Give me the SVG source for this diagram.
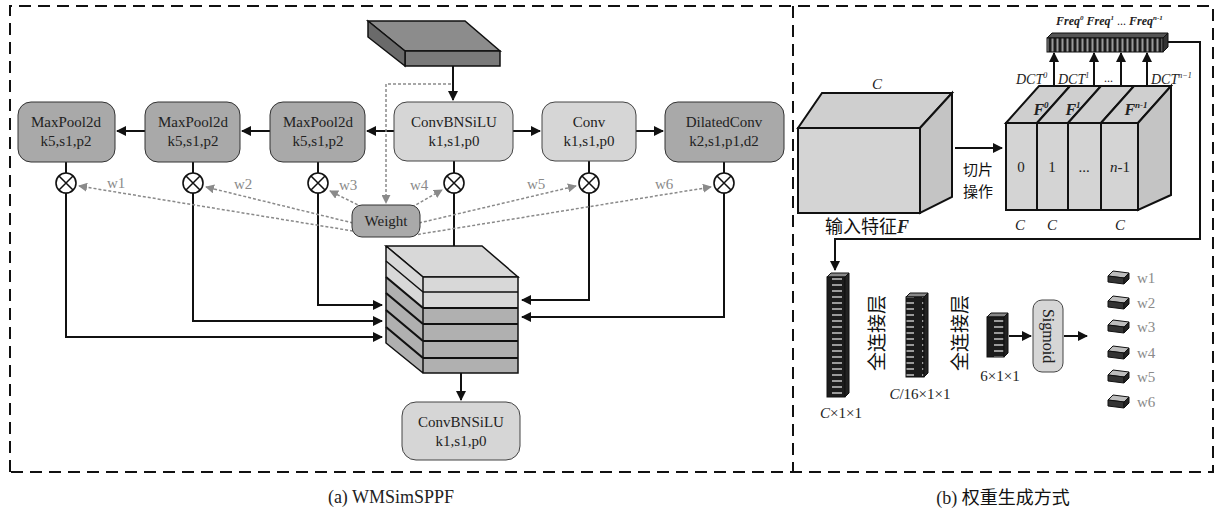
<svg xmlns="http://www.w3.org/2000/svg" width="1216" height="511" viewBox="0 0 1216 511">
<defs>
<style>
.t{font-family:"Liberation Serif",serif;fill:#222;}
.nt{font-size:15px;text-anchor:middle;}
.wl{font-family:"Liberation Serif",serif;font-size:15px;fill:#8a8a8a;}
.cj{font-family:"Noto Sans CJK SC",sans-serif;fill:#111;}
.dark{fill:#a9a9a9;stroke:#333;stroke-width:1;}
.light{fill:#d6d6d6;stroke:#444;stroke-width:1;}
.ln{stroke:#111;stroke-width:2;fill:none;}
.ga{stroke:#8a8a8a;stroke-width:1.5;stroke-dasharray:3 2;fill:none;marker-end:url(#ag);}
.ox{fill:#fff;stroke:#111;stroke-width:1.6;}
.ed{stroke:#111;stroke-width:1.5;}
.ws polygon{stroke:#111;stroke-width:1;}
</style>
<marker id="ab" viewBox="0 0 10 10" refX="9" refY="5" markerWidth="5" markerHeight="5" orient="auto" markerUnits="strokeWidth"><path d="M0,0 L10,5 L0,10 z" fill="#111"/></marker>
<marker id="ag" viewBox="0 0 10 10" refX="9" refY="5" markerWidth="6" markerHeight="6" orient="auto" markerUnits="strokeWidth"><path d="M0,0 L10,5 L0,10 z" fill="#8a8a8a"/></marker>
<pattern id="cells" width="18" height="6" patternUnits="userSpaceOnUse"><rect width="18" height="6" fill="#1c1c1c"/><rect x="4" y="2" width="10" height="2" fill="#9a9a9a"/></pattern>
<pattern id="vst" width="5" height="20" patternUnits="userSpaceOnUse"><rect width="5" height="20" fill="#1c1c1c"/><rect x="1.5" y="0" width="2" height="20" fill="#9a9a9a"/></pattern>
</defs>
<rect width="1216" height="511" fill="#fff"/>

<g id="frame" fill="none" stroke="#111" stroke-width="2" stroke-dasharray="12 7">
<path d="M10,472 V6 H1213 V472 Z"/>
<path d="M793,6 V472"/>
</g>

<g id="connectors">
<path class="ln" d="M453,66 V100" marker-end="url(#ab)"/>
<path class="ln" d="M394,131 H367" marker-end="url(#ab)"/>
<path class="ln" d="M270,131 H242" marker-end="url(#ab)"/>
<path class="ln" d="M145,131 H117" marker-end="url(#ab)"/>
<path class="ln" d="M513,131 H540" marker-end="url(#ab)"/>
<path class="ln" d="M636,131 H663" marker-end="url(#ab)"/>
<path class="ln" d="M66,162 V173 M193,162 V173 M318,162 V173 M454,161 V173 M589,161 V173 M724,162 V173"/>
<path class="ln" d="M454,193 V258" marker-end="url(#ab)"/>
<path class="ln" d="M318,193 V305 H382" marker-end="url(#ab)"/>
<path class="ln" d="M193,193 V321 H382" marker-end="url(#ab)"/>
<path class="ln" d="M66,193 V337 H382" marker-end="url(#ab)"/>
<path class="ln" d="M589,193 V300 H522" marker-end="url(#ab)"/>
<path class="ln" d="M724,193 V317 H522" marker-end="url(#ab)"/>
<path class="ln" d="M461,373 V400" marker-end="url(#ab)"/>
<path class="ga" d="M451,84 H386 V203"/>
<path class="ga" d="M353,231 L79,186"/>
<path class="ga" d="M353,223 L206,187"/>
<path class="ga" d="M362,207 L330,191"/>
<path class="ga" d="M412,207 L442,190"/>
<path class="ga" d="M419,223 L576,186"/>
<path class="ga" d="M408,236 L711,187"/>
<path class="ln" d="M955,148 H1002" marker-end="url(#ab)"/>
<path class="ln" stroke-width="1.6" d="M1054,86 V70 M1094,86 V70 M1121,86 V70 M1147,86 V70"/>
<path class="ln" stroke-width="1.6" d="M1054,72 V53" marker-end="url(#ab)"/>
<path class="ln" stroke-width="1.6" d="M1094,72 V53" marker-end="url(#ab)"/>
<path class="ln" stroke-width="1.6" d="M1121,72 V53" marker-end="url(#ab)"/>
<path class="ln" stroke-width="1.6" d="M1147,72 V53" marker-end="url(#ab)"/>
<path class="ln" stroke-width="1.6" d="M1168,42 H1200 V239 H835 V270" marker-end="url(#ab)"/>
<path class="ln" stroke-width="1.6" d="M1009,336 H1031" marker-end="url(#ab)"/>
<path class="ln" stroke-width="1.6" d="M1064,336 H1087" marker-end="url(#ab)"/>
</g>

<g id="input-slab">
<polygon points="368,21 465,21 500,51 405,51" fill="#8c8c8c" stroke="#111" stroke-width="1.5"/>
<polygon points="405,51 500,51 500,66 405,66" fill="#7a7a7a" stroke="#111" stroke-width="1.5"/>
<polygon points="368,21 405,51 405,66 368,37" fill="#6a6a6a" stroke="#111" stroke-width="1.5"/>
</g>

<g id="maxpool1"><rect class="dark" x="18" y="102" width="97" height="60" rx="13"/><text class="t nt" x="66" y="127">MaxPool2d</text><text class="t nt" x="66" y="146">k5,s1,p2</text></g>
<g id="maxpool2"><rect class="dark" x="145" y="102" width="95" height="60" rx="13"/><text class="t nt" x="193" y="127">MaxPool2d</text><text class="t nt" x="193" y="146">k5,s1,p2</text></g>
<g id="maxpool3"><rect class="dark" x="270" y="102" width="95" height="60" rx="13"/><text class="t nt" x="318" y="127">MaxPool2d</text><text class="t nt" x="318" y="146">k5,s1,p2</text></g>
<g id="convbnsilu"><rect class="light" x="394" y="102" width="119" height="59" rx="13"/><text class="t nt" x="454" y="127">ConvBNSiLU</text><text class="t nt" x="454" y="146">k1,s1,p0</text></g>
<g id="conv"><rect class="light" x="542" y="102" width="94" height="59" rx="13"/><text class="t nt" x="589" y="127">Conv</text><text class="t nt" x="589" y="146">k1,s1,p0</text></g>
<g id="dilatedconv"><rect class="dark" x="665" y="102" width="119" height="60" rx="13"/><text class="t nt" x="724" y="127">DilatedConv</text><text class="t nt" x="724" y="146">k2,s1,p1,d2</text></g>

<g id="mults">
<g><circle class="ox" cx="66" cy="183" r="10"/><path class="ed" d="M59,176 L73,190 M73,176 L59,190"/></g>
<g><circle class="ox" cx="193" cy="183" r="10"/><path class="ed" d="M186,176 L200,190 M200,176 L186,190"/></g>
<g><circle class="ox" cx="318" cy="183" r="10"/><path class="ed" d="M311,176 L325,190 M325,176 L311,190"/></g>
<g><circle class="ox" cx="454" cy="183" r="10"/><path class="ed" d="M447,176 L461,190 M461,176 L447,190"/></g>
<g><circle class="ox" cx="589" cy="183" r="10"/><path class="ed" d="M582,176 L596,190 M596,176 L582,190"/></g>
<g><circle class="ox" cx="724" cy="183" r="10"/><path class="ed" d="M717,176 L731,190 M731,176 L717,190"/></g>
</g>

<g id="wlabels">
<text class="wl" x="107" y="188">w1</text>
<text class="wl" x="234" y="189">w2</text>
<text class="wl" x="339" y="190">w3</text>
<text class="wl" x="410" y="190">w4</text>
<text class="wl" x="527" y="189">w5</text>
<text class="wl" x="655" y="189">w6</text>
</g>

<g id="weight"><rect class="dark" x="352" y="205" width="68" height="32" rx="10"/><text class="t" x="386" y="226" font-size="15" text-anchor="middle">Weight</text></g>

<g id="concat">
<polygon points="386,246 482,246 518,277 423,277" fill="#d8d8d8" stroke="#111" stroke-width="1.5"/>
<rect x="423" y="277" width="95" height="31" fill="#d8d8d8"/>
<rect x="423" y="308" width="95" height="65" fill="#b0b0b0"/>
<polygon points="386,246 423,277 423,308 386,277" fill="#d8d8d8"/>
<polygon points="386,277 423,308 423,373 386,343" fill="#b0b0b0"/>
<path d="M423,277 H518 V373 H423 Z M386,246 L423,277 M386,246 V343 L423,373" fill="none" stroke="#111" stroke-width="1.5"/>
<path d="M423,292 H518 M386,261 L423,292" stroke="#111" stroke-width="1.5"/>
<path d="M423,308 H518 M423,324 H518 M423,341 H518 M423,358 H518 M386,277 L423,308 M386,293 L423,324 M386,310 L423,341 M386,327 L423,358" stroke="#111" stroke-width="2.2"/>
</g>

<g id="convbnsilu-out"><rect class="light" x="402" y="402" width="118" height="58" rx="14"/><text class="t nt" x="461" y="427">ConvBNSiLU</text><text class="t nt" x="461" y="446">k1,s1,p0</text></g>

<g id="captions">
<text class="t" x="391" y="503" font-size="18" text-anchor="middle">(a) WMSimSPPF</text>
<text x="1003" y="504" font-size="18" text-anchor="middle"><tspan class="t">(b) </tspan><tspan class="cj">权重生成方式</tspan></text>
</g>

<g id="input-feature">
<polygon points="798,128 822,93 952,93 920,128" fill="#cfcfcf" stroke="#111" stroke-width="2"/>
<polygon points="920,128 952,93 952,197 920,213" fill="#c4c4c4" stroke="#111" stroke-width="2"/>
<rect x="798" y="128" width="122" height="85" fill="#d4d4d4" stroke="#111" stroke-width="2"/>
<text class="t" x="877" y="89" font-size="15" font-style="italic" text-anchor="middle">C</text>
<text x="867" y="233" font-size="18" text-anchor="middle"><tspan class="cj">输入特征</tspan><tspan class="t" font-weight="bold" font-style="italic">F</tspan></text>
</g>

<g id="slice-op"><text class="cj" x="978" y="175" font-size="15" text-anchor="middle">切片</text><text class="cj" x="978" y="197" font-size="15" text-anchor="middle">操作</text></g>

<g id="slices">
<polygon points="1006,123 1039,86 1070,86 1037,123" fill="#cfcfcf" stroke="#111" stroke-width="2"/>
<polygon points="1037,123 1070,86 1101,86 1068,123" fill="#cfcfcf" stroke="#111" stroke-width="2"/>
<polygon points="1068,123 1101,86 1134,86 1101,123" fill="#cfcfcf" stroke="#111" stroke-width="2"/>
<polygon points="1101,123 1134,86 1171,86 1138,123" fill="#cfcfcf" stroke="#111" stroke-width="2"/>
<polygon points="1138,123 1171,86 1171,195 1138,210" fill="#c4c4c4" stroke="#111" stroke-width="2"/>
<rect x="1006" y="123" width="31" height="87" fill="#d4d4d4" stroke="#111" stroke-width="2"/>
<rect x="1037" y="123" width="31" height="87" fill="#d4d4d4" stroke="#111" stroke-width="2"/>
<rect x="1068" y="123" width="33" height="87" fill="#d4d4d4" stroke="#111" stroke-width="2"/>
<rect x="1101" y="123" width="37" height="87" fill="#d4d4d4" stroke="#111" stroke-width="2"/>
<text class="t" x="1041" y="115" font-size="16" font-weight="bold" font-style="italic" text-anchor="middle">F<tspan font-size="9" dy="-7">0</tspan></text>
<text class="t" x="1073" y="115" font-size="16" font-weight="bold" font-style="italic" text-anchor="middle">F<tspan font-size="9" dy="-7">1</tspan></text>
<text class="t" x="1136" y="115" font-size="16" font-weight="bold" font-style="italic" text-anchor="middle">F<tspan font-size="9" dy="-7">n-1</tspan></text>
<text class="t" x="1021" y="172" font-size="15" text-anchor="middle">0</text>
<text class="t" x="1052" y="172" font-size="15" text-anchor="middle">1</text>
<text class="t" x="1084" y="172" font-size="15" text-anchor="middle">...</text>
<text class="t" x="1120" y="172" font-size="15" text-anchor="middle"><tspan font-style="italic">n</tspan>-1</text>
<text class="t" x="1020" y="230" font-size="15" font-style="italic" text-anchor="middle">C</text>
<text class="t" x="1052" y="230" font-size="15" font-style="italic" text-anchor="middle">C</text>
<text class="t" x="1120" y="230" font-size="15" font-style="italic" text-anchor="middle">C</text>
</g>

<g id="dct-labels">
<text class="t" x="1016" y="84" font-size="14" font-style="italic">DCT<tspan font-size="8" dy="-6">0</tspan></text>
<text class="t" x="1058" y="84" font-size="14" font-style="italic">DCT<tspan font-size="8" dy="-6">1</tspan></text>
<text class="t" x="1104" y="82" font-size="12" fill="#555">...</text>
<text class="t" x="1151" y="84" font-size="14" font-style="italic">DCT<tspan font-size="8" dy="-6">n−1</tspan></text>
</g>

<g id="freq">
<polygon points="1047,38 1052,33 1168,33 1163,38" fill="#555" stroke="#111" stroke-width="1"/>
<rect x="1047" y="38" width="116" height="14" fill="url(#vst)" stroke="#111" stroke-width="1"/>
<polygon points="1163,38 1168,33 1168,47 1163,52" fill="#333" stroke="#111" stroke-width="1"/>
<text class="t" x="1056" y="25" font-size="12" font-weight="bold" font-style="italic">Freq<tspan font-size="7" dy="-5">0</tspan><tspan dy="5"> Freq</tspan><tspan font-size="7" dy="-5">1</tspan><tspan dy="5" font-style="normal" font-weight="normal"> ... </tspan><tspan>Freq</tspan><tspan font-size="7" dy="-5">n-1</tspan></text>
</g>

<g id="col-c">
<polygon points="827,277 831,273 849,273 845,277" fill="#888" stroke="#111" stroke-width="1"/>
<rect x="827" y="277" width="18" height="120" fill="url(#cells)" stroke="#111" stroke-width="1"/>
<polygon points="845,277 849,273 849,393 845,397" fill="#222" stroke="#111" stroke-width="1"/>
<text class="t" x="841" y="418" font-size="15" text-anchor="middle"><tspan font-style="italic">C</tspan>×1×1</text>
</g>
<g id="fc1"><text class="cj" transform="translate(884,333) rotate(-90)" font-size="19" text-anchor="middle">全连接层</text></g>
<g id="col-c16">
<polygon points="906,297 910,293 928,293 924,297" fill="#888" stroke="#111" stroke-width="1"/>
<rect x="906" y="297" width="18" height="80" fill="url(#cells)" stroke="#111" stroke-width="1"/>
<polygon points="924,297 928,293 928,373 924,377" fill="#222" stroke="#111" stroke-width="1"/>
<text class="t" x="920" y="399" font-size="15" text-anchor="middle"><tspan font-style="italic">C</tspan>/16×1×1</text>
</g>
<g id="fc2"><text class="cj" transform="translate(967,333) rotate(-90)" font-size="19" text-anchor="middle">全连接层</text></g>
<g id="col-6">
<polygon points="987,317 991,313 1008,313 1004,317" fill="#888" stroke="#111" stroke-width="1"/>
<rect x="987" y="317" width="17" height="40" fill="url(#cells)" stroke="#111" stroke-width="1"/>
<polygon points="1004,317 1008,313 1008,353 1004,357" fill="#222" stroke="#111" stroke-width="1"/>
<text class="t" x="1000" y="381" font-size="15" text-anchor="middle">6×1×1</text>
</g>
<g id="sigmoid"><rect class="light" x="1033" y="300" width="30" height="72" rx="9"/><text class="t" transform="translate(1043,336) rotate(90)" font-size="16" text-anchor="middle">Sigmoid</text></g>

<g id="weights-out" class="ws">
<g transform="translate(1108,278)"><polygon points="0,-2 5,-7 21,-5 16,0" fill="#bdbdbd"/><polygon points="0,-2 16,0 16,6 0,4" fill="#333"/><polygon points="16,0 21,-5 21,1 16,6" fill="#222"/><text class="wl" x="29" y="5">w1</text></g>
<g transform="translate(1108,303)"><polygon points="0,-2 5,-7 21,-5 16,0" fill="#bdbdbd"/><polygon points="0,-2 16,0 16,6 0,4" fill="#333"/><polygon points="16,0 21,-5 21,1 16,6" fill="#222"/><text class="wl" x="29" y="5">w2</text></g>
<g transform="translate(1108,327)"><polygon points="0,-2 5,-7 21,-5 16,0" fill="#bdbdbd"/><polygon points="0,-2 16,0 16,6 0,4" fill="#333"/><polygon points="16,0 21,-5 21,1 16,6" fill="#222"/><text class="wl" x="29" y="5">w3</text></g>
<g transform="translate(1108,353)"><polygon points="0,-2 5,-7 21,-5 16,0" fill="#bdbdbd"/><polygon points="0,-2 16,0 16,6 0,4" fill="#333"/><polygon points="16,0 21,-5 21,1 16,6" fill="#222"/><text class="wl" x="29" y="5">w4</text></g>
<g transform="translate(1108,377)"><polygon points="0,-2 5,-7 21,-5 16,0" fill="#bdbdbd"/><polygon points="0,-2 16,0 16,6 0,4" fill="#333"/><polygon points="16,0 21,-5 21,1 16,6" fill="#222"/><text class="wl" x="29" y="5">w5</text></g>
<g transform="translate(1108,402)"><polygon points="0,-2 5,-7 21,-5 16,0" fill="#bdbdbd"/><polygon points="0,-2 16,0 16,6 0,4" fill="#333"/><polygon points="16,0 21,-5 21,1 16,6" fill="#222"/><text class="wl" x="29" y="5">w6</text></g>
</g>
</svg>
